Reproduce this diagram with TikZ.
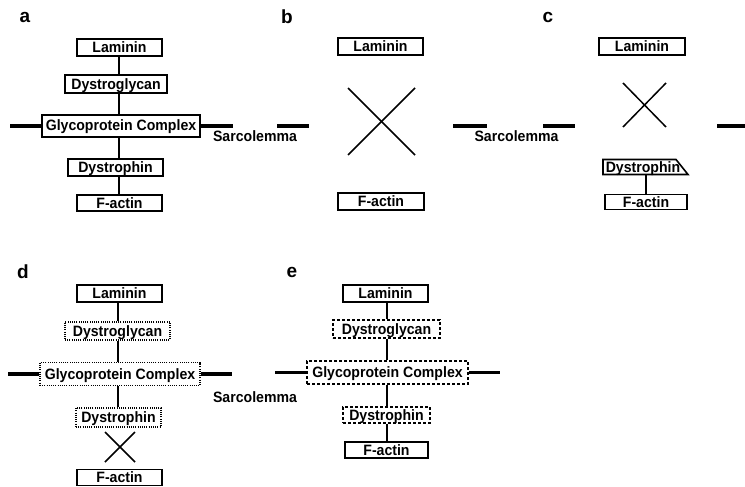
\documentclass[tikz,border=0pt]{standalone}
\usepackage{fontspec}
\setmainfont{Liberation Sans}
\newfontfamily\boxfont[FakeStretch=0.94]{Liberation Sans}
\usetikzlibrary{calc}
\tikzset{
  lbl/.style={font=\fontsize{19}{21}\selectfont\bfseries, inner sep=0pt},
  txt/.style={font=\boxfont\fontsize{15}{17}\selectfont\bfseries, inner sep=0pt, text height=11pt, text depth=1pt},
  solidbox/.style={txt, draw, line width=1.6pt},
  dotbox/.style={txt, draw, line width=1.1pt, dash pattern=on 1pt off 1.2pt},
  dashbox/.style={txt, draw, line width=1.3pt, dash pattern=on 3pt off 2pt},
  link/.style={line width=1.4pt},
  mem/.style={line width=3.6pt},
  xline/.style={line width=1.5pt},
}
\begin{document}
\begin{tikzpicture}[x=1pt,y=-1pt]
\useasboundingbox (0,0) rectangle (745,487);
% ---------- panel labels
\node[lbl] (la) at (25,17) {a};
\node[lbl] (lb) at (287,17) {b};
\node[lbl] (lc) at (548,17) {c};
\node[lbl] (ld) at (23,272) {d};
\node[lbl] (le) at (292,272) {e};
% ---------- panel a
\node[solidbox, minimum width=85pt, minimum height=17pt] (La) at (119.5,47.5) {Laminin};
\node[solidbox, minimum width=102pt, minimum height=18pt] (Da) at (116,84) {Dystroglycan};
\node[solidbox, minimum width=158pt, minimum height=22pt] (Ga) at (121,126) {Glycoprotein Complex};
\node[solidbox, minimum width=95pt, minimum height=17pt] (Dya) at (115.5,167.5) {Dystrophin};
\node[solidbox, minimum width=85pt, minimum height=16pt] (Fa) at (119.5,203) {F-actin};
\draw[link] (La.south -| 119,0) -- (Da.north -| 119,0);
\draw[link] (Da.south -| 119,0) -- (Ga.north -| 119,0);
\draw[link] (Ga.south -| 119,0) -- (Dya.north -| 119,0);
\draw[link] (Dya.south -| 119,0) -- (Fa.north -| 119,0);
\coordinate (maL) at (10,126);
\coordinate (maR) at (233,126);
\draw[mem] (maL) -- (Ga.west);
\draw[mem] (Ga.east) -- (maR);
\node[txt] (Sa) at (255,137) {Sarcolemma};
% ---------- panel b
\node[solidbox, minimum width=85pt, minimum height=17pt] (Lb) at (380.5,46.5) {Laminin};
\node[solidbox, minimum width=86pt, minimum height=17pt] (Fb) at (381,201.5) {F-actin};
\coordinate (xb) at (381.5,121.5);
\draw[xline] ($(xb)+(-33.5,-33.5)$) -- ($(xb)+(33.5,33.5)$);
\draw[xline] ($(xb)+(-33.5,33.5)$) -- ($(xb)+(33.5,-33.5)$);
\coordinate (mb1) at (277,126);
\coordinate (mb2) at (309,126);
\coordinate (mb3) at (453,126);
\coordinate (mb4) at (487,126);
\draw[mem] (mb1) -- (mb2);
\draw[mem] (mb3) -- (mb4);
\node[txt] (Sb) at (516.5,137) {Sarcolemma};
% ---------- panel c
\node[solidbox, minimum width=86pt, minimum height=17pt] (Lc) at (642,46.5) {Laminin};
\coordinate (xc) at (644.5,105);
\draw[xline] ($(xc)+(-21.5,-22)$) -- ($(xc)+(21.5,22)$);
\draw[xline] ($(xc)+(-21.5,22)$) -- ($(xc)+(21.5,-22)$);
\node[txt] (Dyc) at (643,167) {Dystrophin};
\draw[line width=1.6pt, line join=miter] (603,159.5) -- (676,159.5) -- (688,174.5) -- (603,174.5) -- cycle;
\coordinate (Dycb) at (646,174.5);
\node[solidbox, minimum width=82pt, minimum height=15pt] (Fc) at (646,202) {F-actin};
\draw[link] (Dycb) -- (Fc.north);
\coordinate (mc1) at (543,126);
\coordinate (mc2) at (575,126);
\coordinate (mc3) at (717,126);
\coordinate (mc4) at (747,126);
\draw[mem] (mc1) -- (mc2);
\draw[mem] (mc3) -- (mc4);
% ---------- panel d
\node[solidbox, minimum width=85pt, minimum height=17pt] (Ld) at (119.5,293.5) {Laminin};
\node[dotbox, minimum width=105pt, minimum height=18pt] (Dd) at (117.5,331) {Dystroglycan};
\node[dotbox, minimum width=160pt, minimum height=23pt] (Gd) at (120,374) {Glycoprotein Complex};
\node[dotbox, minimum width=85pt, minimum height=19pt] (Dyd) at (118.5,417.5) {Dystrophin};
\node[solidbox, minimum width=85pt, minimum height=16pt] (Fd) at (119.5,477.5) {F-actin};
\draw[link] (Ld.south -| 118,0) -- (Dd.north -| 118,0);
\draw[link] (Dd.south -| 118,0) -- (Gd.north -| 118,0);
\draw[link] (Gd.south -| 118,0) -- (Dyd.north -| 118,0);
\coordinate (xd) at (120,447);
\draw[xline] ($(xd)+(-15,-15)$) -- ($(xd)+(15,15)$);
\draw[xline] ($(xd)+(-15,15)$) -- ($(xd)+(15,-15)$);
\coordinate (mdL) at (8,374);
\coordinate (mdR) at (232,374);
\draw[mem] (mdL) -- (Gd.west);
\draw[mem] (Gd.east) -- (mdR);
\node[txt] (Sd) at (255,397) {Sarcolemma};
% ---------- panel e
\node[solidbox, minimum width=85pt, minimum height=17pt] (Le) at (385.5,293.5) {Laminin};
\node[dashbox, minimum width=107pt, minimum height=18pt] (De) at (386.5,329) {Dystroglycan};
\node[dashbox, minimum width=161pt, minimum height=23pt] (Ge) at (387.5,372.5) {Glycoprotein Complex};
\node[dashbox, minimum width=87pt, minimum height=16pt] (Dye) at (386.5,415) {Dystrophin};
\node[solidbox, minimum width=83pt, minimum height=16pt] (Fe) at (386.5,450) {F-actin};
\draw[link] (Le.south -| 387,0) -- (De.north -| 387,0);
\draw[link] (De.south -| 387,0) -- (Ge.north -| 387,0);
\draw[link] (Ge.south -| 387,0) -- (Dye.north -| 387,0);
\draw[link] (Dye.south -| 387,0) -- (Fe.north -| 387,0);
\coordinate (meL) at (275,372.5);
\coordinate (meR) at (500,372.5);
\draw[mem] (meL) -- (Ge.west);
\draw[mem] (Ge.east) -- (meR);
\end{tikzpicture}
\end{document}
